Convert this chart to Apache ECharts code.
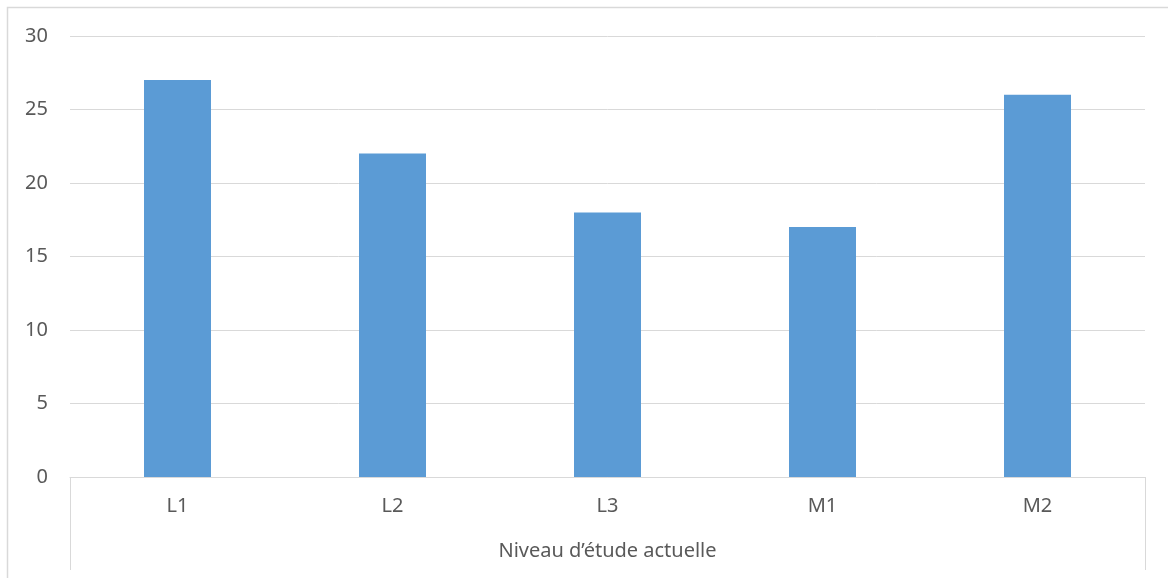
<!DOCTYPE html>
<html><head><meta charset="utf-8">
<script src="https://cdn.jsdelivr.net/npm/echarts@6/dist/echarts.min.js"></script>
<style>html,body{margin:0;padding:0;background:#fff}#c{width:1168px;height:578px}</style>
</head><body><div id="c"></div>
<script>
const categories = ['L1', 'L2', 'L3', 'M1', 'M2'];
const values = [27, 22, 18, 17, 26];
const axisTitle = 'Niveau d\u2019étude actuelle';

const chart = echarts.init(document.getElementById('c'), null, {renderer: 'canvas'});
const font = '"Noto Sans", "Open Sans", sans-serif';
const G = {left: 70, right: 23, top: 36, bottom: 101};
chart.setOption({
  animation: false,
  backgroundColor: '#fff',
  textStyle: {fontFamily: font},
  grid: {left: G.left, right: G.right, top: G.top, bottom: G.bottom, containLabel: false},
  xAxis: {
    type: 'category', data: categories,
    axisLine: {lineStyle: {color: '#d9d9d9', width: 1}},
    axisTick: {show: false},
    axisLabel: {color: '#595959', fontSize: 20, margin: 19, fontFamily: font},
    name: axisTitle, nameLocation: 'middle', nameGap: 64,
    nameTextStyle: {color: '#595959', fontSize: 20, fontFamily: font}
  },
  yAxis: {
    type: 'value', min: 0, max: 30, interval: 5,
    axisLine: {show: false}, axisTick: {show: false},
    axisLabel: {color: '#595959', fontSize: 20, margin: 22, fontFamily: font},
    splitLine: {lineStyle: {color: '#d9d9d9', width: 1}}
  },
  series: [{
    type: 'bar', data: values, barWidth: 67,
    itemStyle: {color: '#5b9bd5'}
  }],
  graphic: [
    {type: 'rect', shape: {x: 7.5, y: 7.5, width: 2000, height: 2000}, style: {fill: null, stroke: '#d9d9d9', lineWidth: 1.5}, silent: true},
    {type: 'line', shape: {x1: G.left + 0.5, y1: 578 - G.bottom, x2: G.left + 0.5, y2: 570}, style: {stroke: '#d9d9d9', lineWidth: 1}, silent: true},
    {type: 'line', shape: {x1: 1168 - G.right + 0.5, y1: 578 - G.bottom, x2: 1168 - G.right + 0.5, y2: 570}, style: {stroke: '#d9d9d9', lineWidth: 1}, silent: true}
  ]
});
</script></body></html>
